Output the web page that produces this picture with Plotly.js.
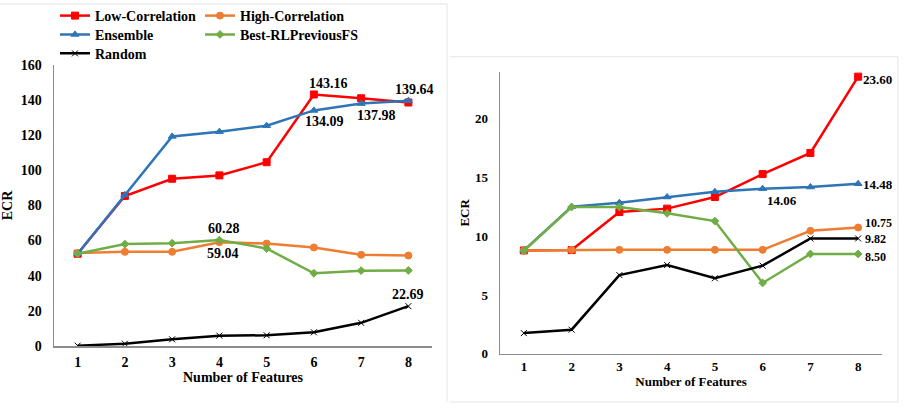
<!DOCTYPE html>
<html>
<head>
<meta charset="utf-8">
<script src="https://cdn.plot.ly/plotly-3.0.1.min.js"></script>
<style>html,body{margin:0;padding:0;background:#fff;}#chart{width:904px;height:408px;}</style>
</head>
<body>
<div id="chart"></div>
<script>
// ---- data ----
const categories = ['1', '2', '3', '4', '5', '6', '7', '8'];
const seriesNames = ['Low-Correlation', 'High-Correlation', 'Ensemble', 'Best-RLPreviousFS', 'Random'];

const leftLow      = [52.5, 85.4, 95.2, 97.1, 104.6, 143.16, 141.0, 138.6];
const leftHigh     = [52.9, 53.6, 53.6, 59.04, 58.3, 56.1, 51.9, 51.5];
const leftEnsemble = [52.5, 86.0, 119.3, 122.0, 125.4, 134.09, 137.98, 139.64];
const leftBest     = [52.5, 58.0, 58.5, 60.28, 55.5, 41.4, 42.9, 43.0];
const leftRandom   = [0.2, 1.3, 3.8, 5.9, 6.1, 7.8, 13.2, 22.69];

const rightLow      = [8.8, 8.83, 12.07, 12.36, 13.35, 15.3, 17.1, 23.60];
const rightHigh     = [8.8, 8.85, 8.85, 8.85, 8.85, 8.85, 10.47, 10.75];
const rightEnsemble = [8.8, 12.53, 12.87, 13.35, 13.8, 14.06, 14.2, 14.48];
const rightBest     = [8.77, 12.5, 12.5, 11.96, 11.3, 6.03, 8.5, 8.50];
const rightRandom   = [1.76, 2.05, 6.7, 7.56, 6.43, 7.5, 9.82, 9.82];

const leftTicks = [0, 20, 40, 60, 80, 100, 120, 140, 160];
const rightTicks = [0, 5, 10, 15, 20];

// ---- styles ----
const FONT = 'Liberation Serif';
const colors = ['#FF0000', '#ED7D31', '#2E75B6', '#70AD47', '#000000'];
const symbols = ['square', 'circle', 'triangle-up', 'diamond', 'x-thin-open'];
const msizes = [7, 7, 7, 6, 6];
const legendOf = ['legend', 'legend2', 'legend3', 'legend4', 'legend5'];

const leftSeries = [leftLow, leftHigh, leftEnsemble, leftBest, leftRandom];
const rightSeries = [rightLow, rightHigh, rightEnsemble, rightBest, rightRandom];

const traces = [];
leftSeries.forEach((ys, k) => {
  traces.push({
    x: categories, y: ys, xaxis: 'x', yaxis: 'y', name: seriesNames[k],
    type: 'scatter', mode: 'lines+markers', legend: legendOf[k],
    line: {color: colors[k], width: 2.5},
    marker: {symbol: symbols[k], size: msizes[k], color: colors[k], line: {color: colors[k], width: 1}}
  });
});
rightSeries.forEach((ys, k) => {
  traces.push({
    x: categories, y: ys, xaxis: 'x2', yaxis: 'y2', name: seriesNames[k],
    type: 'scatter', mode: 'lines+markers', showlegend: false,
    line: {color: colors[k], width: 2.5},
    marker: {symbol: symbols[k], size: msizes[k], color: colors[k], line: {color: colors[k], width: 1}}
  });
});

// label specs: [series array, index, axis suffix, xshift, yshift, xanchor, yanchor, font size]
const labelSpecs = [
  [leftLow, 5, '', 15, 2, 'center', 'bottom', 14],
  [leftEnsemble, 7, '', 6, 3, 'center', 'bottom', 14],
  [leftEnsemble, 5, '', 11, -3, 'center', 'top', 14],
  [leftEnsemble, 6, '', 15, -3, 'center', 'top', 14],
  [leftBest, 3, '', 5, 3, 'center', 'bottom', 14],
  [leftHigh, 3, '', 4, -3, 'center', 'top', 14],
  [leftRandom, 7, '', 0, 3, 'center', 'bottom', 14],
  [rightLow, 7, '2', 4, -3, 'left', 'middle', 13],
  [rightEnsemble, 7, '2', 4, -1, 'left', 'middle', 13],
  [rightEnsemble, 5, '2', 19, -3, 'center', 'top', 13],
  [rightHigh, 7, '2', 6, 5, 'left', 'middle', 12],
  [rightRandom, 7, '2', 6, -1, 'left', 'middle', 12],
  [rightBest, 7, '2', 6, -3, 'left', 'middle', 12]
];
// category axes: annotation x given as category index
const annotations = labelSpecs.map(s => ({
  x: s[1], y: s[0][s[1]], xref: 'x' + s[2], yref: 'y' + s[2],
  text: '<b>' + s[0][s[1]].toFixed(2) + '</b>', showarrow: false, borderpad: 0,
  xshift: s[3], yshift: s[4], xanchor: s[5], yanchor: s[6],
  font: {family: FONT, size: s[7], color: '#000'}
}));

const frameColor = '#e4e4e4';
const shapes = [
  {type: 'line', xref: 'paper', yref: 'paper', x0: 0, x1: 447/904, y0: 1 - 2/408, y1: 1 - 2/408, line: {color: frameColor, width: 1}},
  {type: 'line', xref: 'paper', yref: 'paper', x0: 447/904, x1: 447/904, y0: 1 - 402/408, y1: 1 - 2/408, line: {color: frameColor, width: 1}},
  {type: 'line', xref: 'paper', yref: 'paper', x0: 450/904, x1: 898/904, y0: 1 - 55/408, y1: 1 - 55/408, line: {color: frameColor, width: 1}},
  {type: 'line', xref: 'paper', yref: 'paper', x0: 450/904, x1: 898/904, y0: 1 - 402/408, y1: 1 - 402/408, line: {color: frameColor, width: 1}},
  {type: 'line', xref: 'paper', yref: 'paper', x0: 898/904, x1: 898/904, y0: 1 - 402/408, y1: 1 - 55/408, line: {color: frameColor, width: 1}}
];

function xAx(domain, size, anchor, tl, so) {
  return {
    domain: domain, anchor: anchor, type: 'category', range: [-0.5, 7.5],
    showline: true, linecolor: '#8c8c8c', linewidth: 1.5, showgrid: false, zeroline: false,
    ticks: tl > 0 ? 'outside' : '', ticklen: tl, tickcolor: 'rgba(0,0,0,0)',
    tickfont: {family: FONT, size: size, color: '#000', weight: 'bold'},
    title: {text: '<b>Number of Features</b>', standoff: so, font: {family: FONT, size: size, color: '#000'}},
    fixedrange: true
  };
}
function yAx(domain, range, ticks, size, anchor, so) {
  return {
    domain: domain, anchor: anchor, range: range, tickvals: ticks,
    showline: true, linecolor: '#8c8c8c', linewidth: 1.5, showgrid: false, zeroline: false,
    ticks: 'outside', ticklen: 8, tickcolor: 'rgba(0,0,0,0)',
    tickfont: {family: FONT, size: size, color: '#000', weight: 'bold'},
    title: {text: '<b>ECR</b>', standoff: so, font: {family: FONT, size: size, color: '#000'}},
    fixedrange: true
  };
}

function legendCell(leftPx, rowCenterPx) {
  return {
    x: leftPx/904, y: 1 - rowCenterPx/408, xanchor: 'left', yanchor: 'middle', orientation: 'v',
    bgcolor: 'rgba(0,0,0,0)', itemwidth: 30,
    font: {family: FONT, size: 14, color: '#000', weight: 'bold'}
  };
}

const layout = {
  width: 904, height: 408,
  margin: {l: 0, r: 0, t: 0, b: 0},
  paper_bgcolor: '#fff', plot_bgcolor: 'rgba(0,0,0,0)',
  font: {family: FONT, color: '#000'},
  xaxis: xAx([54/904, 432/904], 14, 'y', 3, 2),
  yaxis: yAx([1 - 345.7/408, 1 - 63.2/408], [0, 160], leftTicks, 14, 'x', 6),
  xaxis2: xAx([500/904, 882/904], 13, 'y2', 0, 2),
  yaxis2: yAx([1 - 353.5/408, 1 - 70.3/408], [0, 24], rightTicks, 13, 'x2', 2),
  legend: legendCell(55, 14),
  legend2: legendCell(200, 14),
  legend3: legendCell(55, 33),
  legend4: legendCell(200, 33),
  legend5: legendCell(55, 52),
  annotations: annotations,
  shapes: shapes,
  showlegend: true
};

Plotly.newPlot('chart', traces, layout, {displayModeBar: false, staticPlot: true});
</script>
</body>
</html>
